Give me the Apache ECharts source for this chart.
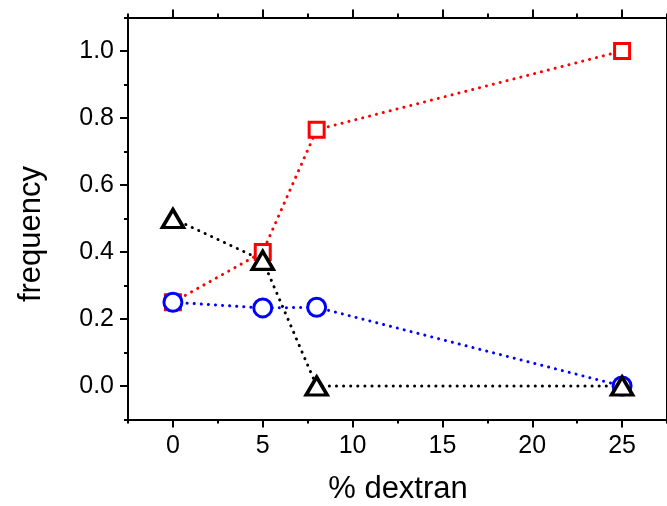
<!DOCTYPE html>
<html>
<head>
<meta charset="utf-8">
<script src="https://cdn.jsdelivr.net/npm/echarts@6/dist/echarts.min.js"></script>
<style>
  html, body { margin: 0; padding: 0; background: #fff; }
  #chart { width: 667px; height: 506px; }
</style>
</head>
<body>
<div id="chart"></div>
<script>
// % dextran on the x axis
const dextran = [0, 5, 8, 25];
// frequency of each outcome at each dextran level
const squaresRed = [0.25, 0.40, 0.765, 1.0];
const circlesBlue = [0.25, 0.233, 0.235, 0.0];
const trianglesBlack = [0.5, 0.375, 0.0, 0.0];

const xMajor = [0, 5, 10, 15, 20, 25];
const xMinor = [-2.5, 2.5, 7.5, 12.5, 17.5, 22.5, 27.5];
const yMajor = [0.0, 0.2, 0.4, 0.6, 0.8, 1.0];
const yMinor = [-0.1, 0.1, 0.3, 0.5, 0.7, 0.9, 1.1];

const FONT = 'Liberation Sans, Arial, sans-serif';
const X_MIN = -2.5, X_MAX = 27.5, Y_MIN = -0.1, Y_MAX = 1.1;

function pairs(ys) { return dextran.map((x, i) => [x, ys[i]]); }

function axisBase(position, ticks, len, showLine, labels, kind) {
  const ax = {
    type: 'value', gridIndex: 0, position: position,
    min: kind === 'x' ? X_MIN : Y_MIN,
    max: kind === 'x' ? X_MAX : Y_MAX,
    splitLine: { show: false },
    axisLine: { show: showLine, onZero: false, lineStyle: { color: '#000', width: 2 } },
    axisTick: { show: true, inside: false, length: len, customValues: ticks,
                lineStyle: { color: '#000', width: 2 } },
    axisLabel: { show: false }
  };
  if (labels) {
    ax.axisLabel = {
      show: true, customValues: labels, color: '#000',
      fontFamily: FONT, fontSize: 25, margin: 14,
      formatter: kind === 'x' ? (v => String(Math.round(v))) : (v => v.toFixed(1))
    };
  }
  return ax;
}

function lineSeries(ys, color, symbol, size, border) {
  return {
    type: 'line', xAxisIndex: 0, yAxisIndex: 0,
    data: pairs(ys),
    symbol: symbol, symbolSize: size, showAllSymbol: true,
    itemStyle: { color: '#fff', borderColor: color, borderWidth: border },
    lineStyle: { color: color, width: 3, type: [0.1, 7], cap: 'round' },
    emphasis: { disabled: true },
    animation: false
  };
}

const chart = echarts.init(document.getElementById('chart'), null, { renderer: 'canvas' });
chart.setOption({
  backgroundColor: '#fff',
  animation: false,
  grid: { left: 128, top: 17.5, width: 542.5, height: 402, containLabel: false },
  xAxis: [
    axisBase('bottom', xMajor, 8, true, xMajor, 'x'),
    axisBase('bottom', xMinor, 4, false, null, 'x'),
    axisBase('top', xMajor, 8, true, null, 'x'),
    axisBase('top', xMinor, 4, false, null, 'x')
  ],
  yAxis: [
    axisBase('left', yMajor, 8, true, yMajor, 'y'),
    axisBase('left', yMinor, 4, false, null, 'y'),
    axisBase('right', yMajor, 8, true, null, 'y'),
    axisBase('right', yMinor, 4, false, null, 'y')
  ],
  series: [
    lineSeries(squaresRed, '#ff0000', 'rect', 15, 3),
    lineSeries(circlesBlue, '#0000ff', 'circle', 18, 3),
    lineSeries(trianglesBlack, '#000000', 'triangle', [21, 18], 3.5)
  ],
  graphic: [
    { type: 'text', x: 398, y: 489,
      style: { text: '% dextran', font: '31px ' + FONT, fill: '#000',
               textAlign: 'center', textVerticalAlign: 'middle' } },
    { type: 'text', x: 31, y: 234, rotation: Math.PI / 2,
      style: { text: 'frequency', font: '31px ' + FONT, fill: '#000',
               textAlign: 'center', textVerticalAlign: 'middle' } }
  ]
});
</script>
</body>
</html>
